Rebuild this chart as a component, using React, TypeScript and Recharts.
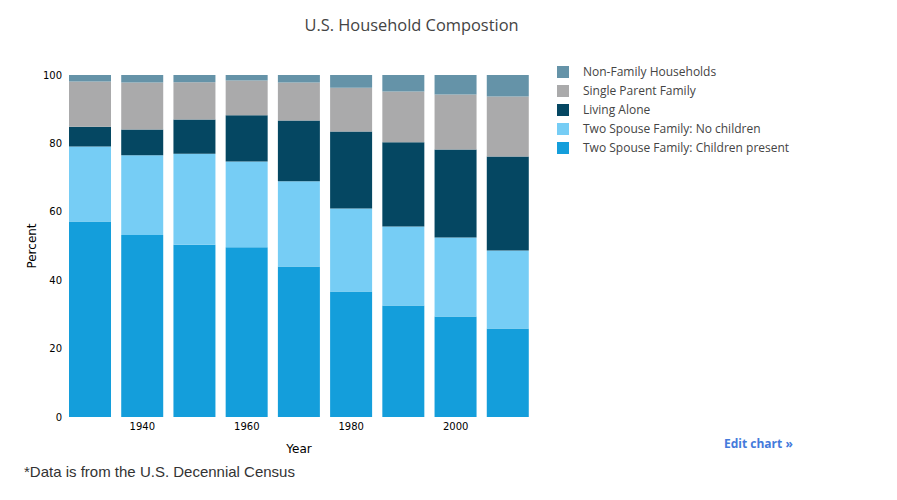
import React from "react";
import { BarChart, Bar, XAxis, YAxis } from "recharts";

const years = [1930, 1940, 1950, 1960, 1970, 1980, 1990, 2000, 2010];
const childrenPresent = [57.2, 53.2, 50.4, 49.6, 44.0, 36.7, 32.6, 29.4, 25.9];
const noChildren = [21.9, 23.3, 26.6, 25.1, 24.9, 24.3, 23.1, 23.1, 22.8];
const livingAlone = [5.8, 7.6, 10.0, 13.5, 17.8, 22.5, 24.6, 25.7, 27.5];
const singleParent = [13.2, 13.7, 10.9, 10.2, 11.1, 12.8, 14.9, 16.1, 17.5];
const nonFamily = [1.9, 2.2, 2.1, 1.6, 2.2, 3.7, 4.8, 5.7, 6.3];
const yTicks = [0, 20, 40, 60, 80, 100];

// stacking order: bottom to top
const series = [
  { key: "children", name: "Two Spouse Family: Children present", color: "#149edb" },
  { key: "noChildren", name: "Two Spouse Family: No children", color: "#76cdf5" },
  { key: "alone", name: "Living Alone", color: "#054762" },
  { key: "single", name: "Single Parent Family", color: "#aaaaab" },
  { key: "nonFamily", name: "Non-Family Households", color: "#6593a8" },
];

const data = years.map((y, i) => ({
  year: y,
  children: childrenPresent[i],
  noChildren: noChildren[i],
  alone: livingAlone[i],
  single: singleParent[i],
  nonFamily: nonFamily[i],
}));

const tickFont = { fontFamily: "DejaVu Sans", fontSize: 10, fill: "#000" };

function LegendBox() {
  const rows = [...series].reverse();
  return (
    <div
      style={{
        position: "absolute", left: 557, top: 62,
        fontFamily: "Open Sans", fontSize: 12, color: "#444",
      }}
    >
      {rows.map((s) => (
        <div key={s.key} style={{ display: "flex", alignItems: "center", height: 19 }}>
          <span style={{ width: 12, height: 12, background: s.color, display: "inline-block" }} />
          <span style={{ marginLeft: 14 }}>{s.name}</span>
        </div>
      ))}
    </div>
  );
}

export default function App() {
  return (
    <div style={{ position: "absolute", left: 0, top: 0, width: 897, height: 500, background: "#fff" }}>
      <div
        style={{
          position: "absolute", top: 13, left: 0, width: 823, textAlign: "center",
          fontFamily: "Open Sans", fontSize: 16.4, color: "#444",
        }}
      >
        U.S. Household Compostion
      </div>
      <BarChart
        width={897}
        height={500}
        data={data}
        margin={{ top: 75, right: 363, bottom: 0, left: 0 }}
      >
        <XAxis
          dataKey="year"
          height={83}
          axisLine={false}
          tickLine={false}
          tickSize={0}
          tickMargin={6}
          tick={tickFont}
          interval={0}
          tickFormatter={(v: number) => (v % 20 === 0 ? String(v) : "")}
          label={{ value: "Year", position: "insideTop", offset: 27, style: { fontFamily: "DejaVu Sans", fontSize: 12, fill: "#000" } }}
        />
        <YAxis
          width={64}
          domain={[0, 100]}
          ticks={yTicks}
          axisLine={false}
          tickLine={false}
          tickSize={0}
          tickMargin={2}
          tick={tickFont}
          label={{ value: "Percent", angle: -90, position: "insideLeft", offset: 32, style: { fontFamily: "DejaVu Sans", fontSize: 12, fill: "#000", textAnchor: "middle" } }}
        />
        {series.map((s) => (
          <Bar
            key={s.key}
            dataKey={s.key}
            name={s.name}
            stackId="a"
            fill={s.color}
            barSize={42}
            isAnimationActive={false}
          />
        ))}
      </BarChart>
      <LegendBox />
      <div
        style={{
          position: "absolute", left: 724, top: 435, fontFamily: "Open Sans", fontWeight: 700,
          fontSize: 12, color: "#447adb",
        }}
      >
        Edit chart »
      </div>
      <div
        style={{
          position: "absolute", left: 24, top: 463, fontFamily: "Liberation Sans", fontSize: 15, color: "#333",
        }}
      >
        *Data is from the U.S. Decennial Census
      </div>
    </div>
  );
}
